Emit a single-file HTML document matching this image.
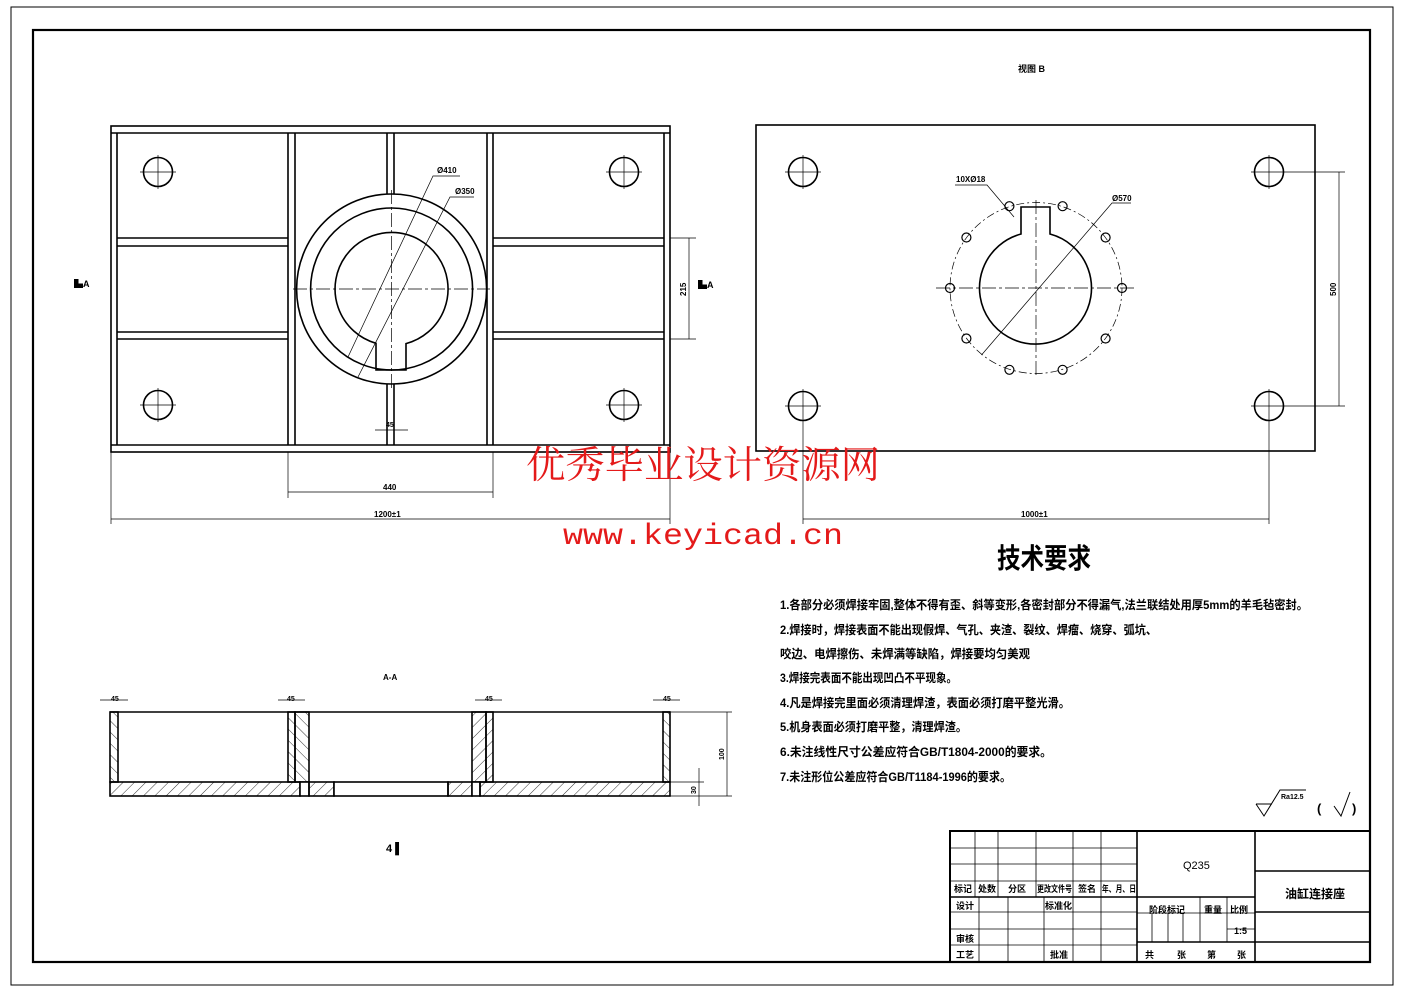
<!DOCTYPE html>
<html><head><meta charset="utf-8"><style>
html,body{margin:0;padding:0;background:#fff;}
svg{display:block;}
text{font-family:"Liberation Sans","Noto Sans CJK SC",sans-serif;fill:#000;}
.cj{font-family:"Liberation Sans","Noto Sans CJK SC",sans-serif;font-weight:bold;}
</style></head><body>
<svg width="1403" height="992" viewBox="0 0 1403 992" xmlns="http://www.w3.org/2000/svg">
<defs>
<pattern id="h1" width="8" height="8" patternUnits="userSpaceOnUse" patternTransform="rotate(45)"><line x1="0" y1="0" x2="0" y2="8" stroke="#000" stroke-width="0.8"/></pattern>
<pattern id="h2" width="8" height="8" patternUnits="userSpaceOnUse" patternTransform="rotate(-45)"><line x1="0" y1="0" x2="0" y2="8" stroke="#000" stroke-width="0.8"/></pattern>
</defs>
<rect width="1403" height="992" fill="#fff"/>
<rect x="11" y="7" width="1382" height="978" fill="none" stroke="#000" stroke-width="1"/>
<rect x="33" y="30" width="1337" height="932" fill="none" stroke="#000" stroke-width="2.2"/>

<g fill="none" stroke="#000" stroke-width="1.6">
<rect x="111" y="126" width="559" height="326"/>
<line x1="111" y1="133" x2="670" y2="133"/>
<line x1="111" y1="445" x2="670" y2="445"/>
<line x1="117" y1="133" x2="117" y2="445"/>
<line x1="664" y1="133" x2="664" y2="445"/>
<line x1="288" y1="133" x2="288" y2="445"/>
<line x1="295" y1="133" x2="295" y2="445"/>
<line x1="487" y1="133" x2="487" y2="445"/>
<line x1="493" y1="133" x2="493" y2="445"/>
<line x1="387" y1="133" x2="387" y2="194"/>
<line x1="394" y1="133" x2="394" y2="194"/>
<line x1="387" y1="384" x2="387" y2="445"/>
<line x1="394" y1="384" x2="394" y2="445"/>
<line x1="117" y1="238" x2="288" y2="238"/><line x1="117" y1="246" x2="288" y2="246"/>
<line x1="117" y1="332" x2="288" y2="332"/><line x1="117" y1="339" x2="288" y2="339"/>
<line x1="493" y1="238" x2="664" y2="238"/><line x1="493" y1="246" x2="664" y2="246"/>
<line x1="493" y1="332" x2="664" y2="332"/><line x1="493" y1="339" x2="664" y2="339"/>
<circle cx="391.6" cy="289" r="95"/>
<circle cx="391.6" cy="289" r="81"/>
<path d="M376,343.3 L376,370 L406,370 L406,343.6 A56.5,56.5 0 1 0 376,343.3 Z"/>
<circle cx="158" cy="172" r="14.5"/><circle cx="624" cy="172" r="14.5"/>
<circle cx="158" cy="405" r="14.5"/><circle cx="624" cy="405" r="14.5"/>
</g>
<g stroke="#000" stroke-width="0.7" fill="none">
<line x1="293" y1="289" x2="490" y2="289" stroke-dasharray="14,3,3,3"/>
<line x1="391.6" y1="190" x2="391.6" y2="388" stroke-dasharray="14,3,3,3"/>
<line x1="140" y1="172" x2="176" y2="172"/><line x1="158" y1="155" x2="158" y2="189"/>
<line x1="606" y1="172" x2="642" y2="172"/><line x1="624" y1="155" x2="624" y2="189"/>
<line x1="140" y1="405" x2="176" y2="405"/><line x1="158" y1="388" x2="158" y2="422"/>
<line x1="606" y1="405" x2="642" y2="405"/><line x1="624" y1="388" x2="624" y2="422"/>
<polyline points="348,357 433,176 460,176"/>
<polyline points="358,377 450,197 474,197"/>
<line x1="670" y1="238" x2="696" y2="238"/><line x1="670" y1="339" x2="696" y2="339"/>
<line x1="689" y1="238" x2="689" y2="339"/>
<line x1="375" y1="430" x2="408" y2="430"/>
<line x1="288" y1="452" x2="288" y2="498"/><line x1="493" y1="452" x2="493" y2="498"/>
<line x1="288" y1="492" x2="493" y2="492"/>
<line x1="111" y1="452" x2="111" y2="524"/><line x1="670" y1="452" x2="670" y2="524"/>
<line x1="111" y1="519" x2="670" y2="519"/>
</g>
<g font-size="8" font-weight="bold">
<text x="437" y="173">Ø410</text>
<text x="455" y="194">Ø350</text>
<text x="386" y="427" font-size="7">45</text>
<text x="383" y="490">440</text>
<text x="374" y="517">1200±1</text>
<text transform="translate(686,296) rotate(-90)">215</text>
<text x="74" y="287" font-size="9">▙A</text>
<text x="698" y="288" font-size="9">▙A</text>
</g>

<text x="1018" y="72" font-size="9" class="cj">视图 B</text>
<g fill="none" stroke="#000" stroke-width="1.6">
<rect x="756" y="125" width="559" height="326"/>
<circle cx="803" cy="172" r="14.5"/><circle cx="1269" cy="172" r="14.5"/>
<circle cx="803" cy="406" r="14.5"/><circle cx="1269" cy="406" r="14.5"/>
<path d="M1021,234 L1021,207 L1050,207 L1050,234 A56,56 0 1 1 1021,234 Z"/>
</g>
<g fill="none" stroke="#000" stroke-width="1.2">
<circle cx="1122" cy="288" r="4.5"/><circle cx="1105.6" cy="338.5" r="4.5"/>
<circle cx="1062.6" cy="369.8" r="4.5"/><circle cx="1009.4" cy="369.8" r="4.5"/>
<circle cx="966.4" cy="338.5" r="4.5"/><circle cx="950" cy="288" r="4.5"/>
<circle cx="966.4" cy="237.5" r="4.5"/><circle cx="1009.4" cy="206.2" r="4.5"/>
<circle cx="1062.6" cy="206.2" r="4.5"/><circle cx="1105.6" cy="237.5" r="4.5"/>
</g>
<g stroke="#000" stroke-width="0.7" fill="none">
<ellipse cx="1036" cy="288" rx="86" ry="85.5" stroke-dasharray="8,3,2,3"/>
<line x1="936" y1="288" x2="1136" y2="288" stroke-dasharray="14,3,3,3"/>
<line x1="1036" y1="200" x2="1036" y2="378" stroke-dasharray="14,3,3,3"/>
<line x1="785" y1="172" x2="821" y2="172"/><line x1="803" y1="155" x2="803" y2="189"/>
<line x1="1251" y1="172" x2="1345" y2="172"/><line x1="1269" y1="155" x2="1269" y2="189"/>
<line x1="785" y1="406" x2="821" y2="406"/><line x1="803" y1="389" x2="803" y2="524"/>
<line x1="1251" y1="406" x2="1345" y2="406"/><line x1="1269" y1="389" x2="1269" y2="524"/>
<line x1="1339" y1="172" x2="1339" y2="406"/>
<line x1="803" y1="519" x2="1269" y2="519"/>
<polyline points="955,185 987,185 1014,217"/>
<polyline points="981.5,355 1112,203 1131,203"/>
</g>
<g font-size="8" font-weight="bold">
<text x="956" y="182">10XØ18</text>
<text x="1112" y="201">Ø570</text>
<text transform="translate(1336,296) rotate(-90)">500</text>
<text x="1021" y="517">1000±1</text>
</g>

<text x="526" y="478" font-size="38" textLength="354" lengthAdjust="spacingAndGlyphs" style="fill:#e41a1a;font-family:'Liberation Serif','Noto Serif CJK SC',serif">优秀毕业设计资源网</text>
<text x="563" y="544" font-size="30" textLength="280" lengthAdjust="spacingAndGlyphs" style="fill:#e41a1a;font-family:'Liberation Mono',monospace">www.keyicad.cn</text>

<text x="383" y="680" font-size="8" font-weight="bold">A-A</text>
<g stroke="#000" stroke-width="1.6">
<rect x="110" y="712" width="8" height="70" fill="url(#h2)"/>
<rect x="288" y="712" width="7" height="70" fill="url(#h2)"/>
<rect x="295" y="712" width="14" height="70" fill="url(#h2)"/>
<rect x="472" y="712" width="14" height="70" fill="url(#h1)"/>
<rect x="486" y="712" width="7" height="70" fill="url(#h1)"/>
<rect x="663" y="712" width="7" height="70" fill="url(#h2)"/>
<line x1="110" y1="712" x2="670" y2="712"/>
<rect x="110" y="782" width="190" height="14" fill="url(#h1)"/>
<rect x="300" y="782" width="9" height="14" fill="#fff"/>
<rect x="309" y="782" width="25" height="14" fill="url(#h1)"/>
<rect x="334" y="782" width="114" height="14" fill="#fff"/>
<rect x="448" y="782" width="24" height="14" fill="url(#h1)"/>
<rect x="472" y="782" width="8" height="14" fill="#fff"/>
<rect x="480" y="782" width="190" height="14" fill="url(#h1)"/>
</g>
<g stroke="#000" stroke-width="0.7">
<line x1="100" y1="700" x2="128" y2="700"/><line x1="278" y1="700" x2="305" y2="700"/>
<line x1="475" y1="700" x2="502" y2="700"/><line x1="653" y1="700" x2="680" y2="700"/>
<line x1="670" y1="712" x2="732" y2="712"/><line x1="670" y1="796" x2="732" y2="796"/>
<line x1="727" y1="712" x2="727" y2="796"/>
<line x1="670" y1="782" x2="704" y2="782"/>
<line x1="699" y1="768" x2="699" y2="806"/>
</g>
<g font-size="7" font-weight="bold">
<text x="111" y="701">45</text><text x="287" y="701">45</text>
<text x="485" y="701">45</text><text x="663" y="701">45</text>
<text transform="translate(724,760) rotate(-90)">100</text>
<text transform="translate(696,794) rotate(-90)">30</text>
</g>
<text x="386" y="852" font-size="11" font-weight="bold">4 ▌</text>

<text x="997" y="568" font-size="28" textLength="94" lengthAdjust="spacingAndGlyphs" class="cj">技术要求</text>
<g font-size="12" class="cj">
<text x="780" y="609" textLength="528" lengthAdjust="spacingAndGlyphs">1.各部分必须焊接牢固,整体不得有歪、斜等变形,各密封部分不得漏气,法兰联结处用厚5mm的羊毛毡密封。</text>
<text x="780" y="634" textLength="377" lengthAdjust="spacingAndGlyphs">2.焊接时，焊接表面不能出现假焊、气孔、夹渣、裂纹、焊瘤、烧穿、弧坑、</text>
<text x="780" y="658" textLength="250" lengthAdjust="spacingAndGlyphs">咬边、电焊擦伤、未焊满等缺陷，焊接要均匀美观</text>
<text x="780" y="682" textLength="177" lengthAdjust="spacingAndGlyphs">3.焊接完表面不能出现凹凸不平现象。</text>
<text x="780" y="707" textLength="290" lengthAdjust="spacingAndGlyphs">4.凡是焊接完里面必须清理焊渣，表面必须打磨平整光滑。</text>
<text x="780" y="731" textLength="187" lengthAdjust="spacingAndGlyphs">5.机身表面必须打磨平整，清理焊渣。</text>
<text x="780" y="756" textLength="272" lengthAdjust="spacingAndGlyphs">6.未注线性尺寸公差应符合GB/T1804-2000的要求。</text>
<text x="780" y="781" textLength="231" lengthAdjust="spacingAndGlyphs">7.未注形位公差应符合GB/T1184-1996的要求。</text>
</g>
<g stroke="#000" stroke-width="1" fill="none">
<polyline points="1256,804 1264,816 1280,790 1306,790"/>
<line x1="1256" y1="804" x2="1272" y2="804"/>
<polyline points="1334,806 1341,816 1350,792"/>
</g>
<text x="1281" y="799" font-size="7" font-weight="bold">Ra12.5</text>
<text x="1317" y="813" font-size="13" font-weight="bold">(</text>
<text x="1352" y="813" font-size="13" font-weight="bold">)</text>

<g stroke="#000" fill="none">
<rect x="950" y="831" width="420" height="131" stroke-width="2"/>
<g stroke-width="0.8">
<line x1="950" y1="848" x2="1137" y2="848"/>
<line x1="950" y1="864" x2="1137" y2="864"/>
<line x1="950" y1="881" x2="1137" y2="881"/>
<line x1="950" y1="912" x2="1137" y2="912"/>
<line x1="950" y1="929" x2="1137" y2="929"/>
<line x1="950" y1="945" x2="1137" y2="945"/>
<line x1="975" y1="831" x2="975" y2="897"/>
<line x1="998" y1="831" x2="998" y2="897"/>
<line x1="1036" y1="831" x2="1036" y2="897"/>
<line x1="1073" y1="831" x2="1073" y2="962"/>
<line x1="1101" y1="831" x2="1101" y2="962"/>
<line x1="979" y1="897" x2="979" y2="962"/>
<line x1="1008" y1="897" x2="1008" y2="962"/>
<line x1="1044" y1="897" x2="1044" y2="962"/>
<line x1="1137" y1="913" x2="1255" y2="913"/>
<line x1="1200" y1="897" x2="1200" y2="942"/>
<line x1="1227" y1="897" x2="1227" y2="942"/>
<line x1="1152" y1="913" x2="1152" y2="942"/>
<line x1="1168" y1="913" x2="1168" y2="942"/>
<line x1="1183" y1="913" x2="1183" y2="942"/>
<line x1="1227" y1="929" x2="1255" y2="929"/>
</g>
<g stroke-width="1.6">
<line x1="950" y1="897" x2="1255" y2="897"/>
<line x1="1137" y1="831" x2="1137" y2="962"/>
<line x1="1255" y1="831" x2="1255" y2="962"/>
<line x1="1255" y1="871" x2="1370" y2="871"/>
<line x1="1255" y1="912" x2="1370" y2="912"/>
<line x1="1255" y1="942" x2="1370" y2="942"/>
<line x1="1137" y1="942" x2="1255" y2="942"/>
</g>
</g>
<g font-size="9" class="cj">
<text x="954" y="892">标记</text><text x="978" y="892">处数</text><text x="1008" y="892">分区</text>
<text x="1037" y="892" textLength="35" lengthAdjust="spacingAndGlyphs">更改文件号</text><text x="1078" y="892">签名</text><text x="1102" y="892" textLength="34" lengthAdjust="spacingAndGlyphs">年、月、日</text>
<text x="956" y="909">设计</text><text x="1045" y="909">标准化</text>
<text x="956" y="942">审核</text><text x="956" y="958">工艺</text><text x="1050" y="958">批准</text>
<text x="1149" y="913">阶段标记</text><text x="1204" y="913">重量</text><text x="1230" y="913">比例</text>
<text x="1234" y="934">1:5</text>
<text x="1145" y="958">共</text><text x="1177" y="958">张</text><text x="1207" y="958">第</text><text x="1237" y="958">张</text>
<text x="1183" y="869" font-size="11" font-weight="normal">Q235</text>
<text x="1285" y="898" font-size="12">油缸连接座</text>
</g>
</svg>
</body></html>
